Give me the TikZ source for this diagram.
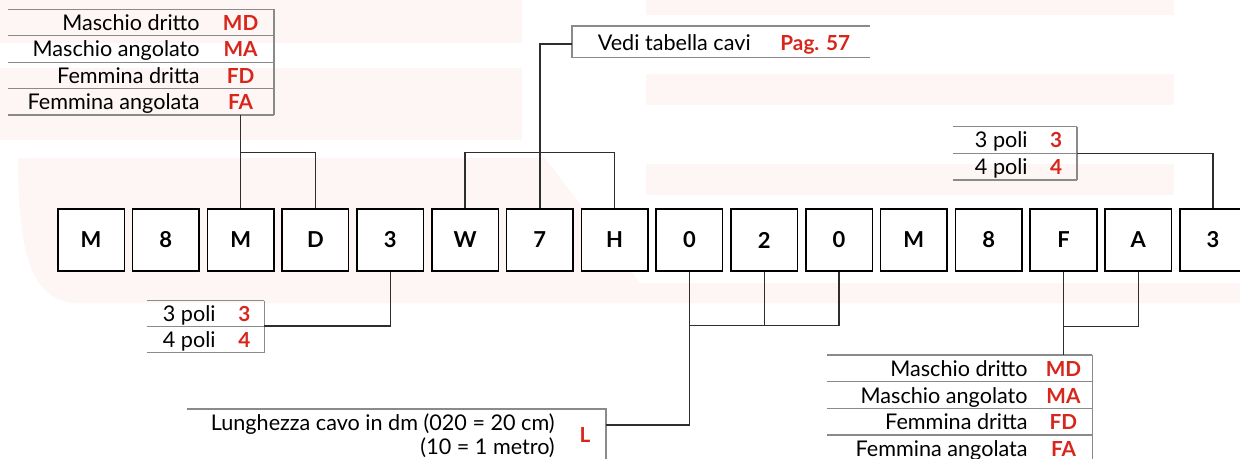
\documentclass[tikz,border=0pt]{standalone}
\usepackage{fontspec}
\setmainfont{Lato}
\usepackage{tikz}
\usetikzlibrary{positioning,calc}
\definecolor{codeRed}{HTML}{D7261C}
\definecolor{tabGrey}{HTML}{8A8A8A}
\definecolor{connDark}{HTML}{2E2E2E}
\definecolor{wmPink}{HTML}{FEF6F5}

\tikzset{
  charbox/.style={draw=black,fill=white,line width=0.9pt,minimum width=1.33cm,
                  minimum height=1.25cm,inner sep=0pt,
                  font=\fontsize{12.5}{14}\selectfont\bfseries},
  lbl/.style={anchor=base east,inner sep=0pt,font=\fontsize{12.3}{14}\selectfont},
  code/.style={anchor=base,inner sep=0pt,text=codeRed,
               font=\fontsize{11.8}{13}\selectfont\bfseries},
  tabline/.style={draw=tabGrey,line width=0.7pt},
  conn/.style={draw=connDark,line width=0.75pt},
}

\begin{document}
\begin{tikzpicture}[x=0.02cm,y=-0.02cm]
  \useasboundingbox (0,0) rectangle (1240,459);
  \clip (0,0) rectangle (1240,459);

  % faint logo in the back
  \fill[wmPink] (0,0) rectangle (522,43);
  \fill[wmPink] (0,68) rectangle (522,140);
  \fill[wmPink] (646,0) rectangle (1174,15);
  \fill[wmPink] (646,74) rectangle (1174,105);
  \fill[wmPink] (646,164) rectangle (1174,195);
  \fill[wmPink] (18,158) -- (545,158) -- (640,283) -- (1240,283) -- (1240,303)
    -- (75,303) .. controls (30,300) and (18,250) .. (18,158);

  % code boxes
  \foreach \c [count=\i] in {M,8,M,D,3,W,7,H,0,2,0,M,8,F,A,3}
    \node[charbox] (b\i) at ({91.05+74.8*(\i-1)},240) {\c};

  % connector type, top left
  \draw[tabline] (8,9.3) -- (274,9.3);
  \foreach \lab/\cod [count=\r] in {Maschio dritto/MD,Maschio angolato/MA,
                                   Femmina dritta/FD,Femmina angolata/FA} {
    \node[lbl] (tl\r) at (200,{9.3+26.43*\r-5.3}) {\lab};
    \node[code] (tlc\r) at (240.65,{9.3+26.43*\r-5.3}) {\cod};
    \draw[tabline] (8,{9.3+26.43*\r}) -- (274,{9.3+26.43*\r});
  }
  \draw[tabline] (274,9.3) -- (274,115);
  \coordinate (tl-out) at (240.65,115);
  \draw[conn] (tl-out) -- (b3.north);
  \draw[conn] (b3.north |- 0,152.3) -| (b4.north);

  % cable table
  \draw[tabline] (870,26) -- (572,26) -- (572,57.3) -- (870,57.3);
  \node[lbl] (vt) at (751,51) {Vedi tabella cavi};
  \node[code] (vtc) at (815.3,51) {Pag. 57};
  \coordinate (vt-in) at (572,44);
  \draw[conn] (vt-in) -| (b7.north);
  \draw[conn] (b6.north) |- (b8.north |- 0,152.3) -- (b8.north);

  % poles, top right
  \foreach \yy in {126.7,153.3,180}
    \draw[tabline] (953,\yy) -- (1077,\yy);
  \draw[tabline] (1077,126.7) -- (1077,180);
  \node[lbl] (tr1) at (1028,148) {3 poli};
  \node[code] (trc1) at (1056,148) {3};
  \node[lbl] (tr2) at (1028,174.7) {4 poli};
  \node[code] (trc2) at (1056,174.7) {4};
  \coordinate (tr-out) at (1077,153.3);
  \draw[conn] (tr-out) -| (b16.north);

  % poles, bottom left
  \foreach \yy in {300.7,326.7,352.7}
    \draw[tabline] (146.7,\yy) -- (264.3,\yy);
  \draw[tabline] (264.3,300.7) -- (264.3,352.7);
  \node[lbl] (bl1) at (216,321.4) {3 poli};
  \node[code] (blc1) at (244.3,321.4) {3};
  \node[lbl] (bl2) at (216,347.4) {4 poli};
  \node[code] (blc2) at (244.3,347.4) {4};
  \coordinate (bl-in) at (264.3,326);
  \draw[conn] (b5.south) |- (bl-in);

  % cable length
  \draw[tabline] (186.7,409) -- (606,409) -- (606,462);
  \node[lbl] (len1) at (555,430) {Lunghezza cavo in dm (020 = 20 cm)};
  \node[lbl] (len2) at (555,454.5) {(10 = 1 metro)};
  \node[code] (lenc) at (585,442) {L};
  \coordinate (len-in) at (606,425);
  \draw[conn] (b9.south |- 0,325.7) -| (b11.south);
  \draw[conn] (b10.south) -- (b10.south |- 0,325.7);
  \draw[conn] (b9.south) |- (len-in);

  % connector type, bottom right
  \draw[tabline] (826.7,355) -- (1092.3,355);
  \foreach \lab/\cod [count=\r] in {Maschio dritto/MD,Maschio angolato/MA,
                                   Femmina dritta/FD,Femmina angolata/FA} {
    \node[lbl] (br\r) at (1028,{355+26.7*\r-5.3}) {\lab};
    \node[code] (brc\r) at (1063.45,{355+26.7*\r-5.3}) {\cod};
    \draw[tabline] (826.7,{355+26.7*\r}) -- (1092.3,{355+26.7*\r});
  }
  \draw[tabline] (1092.3,355) -- (1092.3,462);
  \coordinate (br-in) at (b14.south |- 0,355);
  \draw[conn] (b14.south) -- (br-in);
  \draw[conn] (b14.south |- 0,326.7) -| (b15.south);
\end{tikzpicture}
\end{document}
